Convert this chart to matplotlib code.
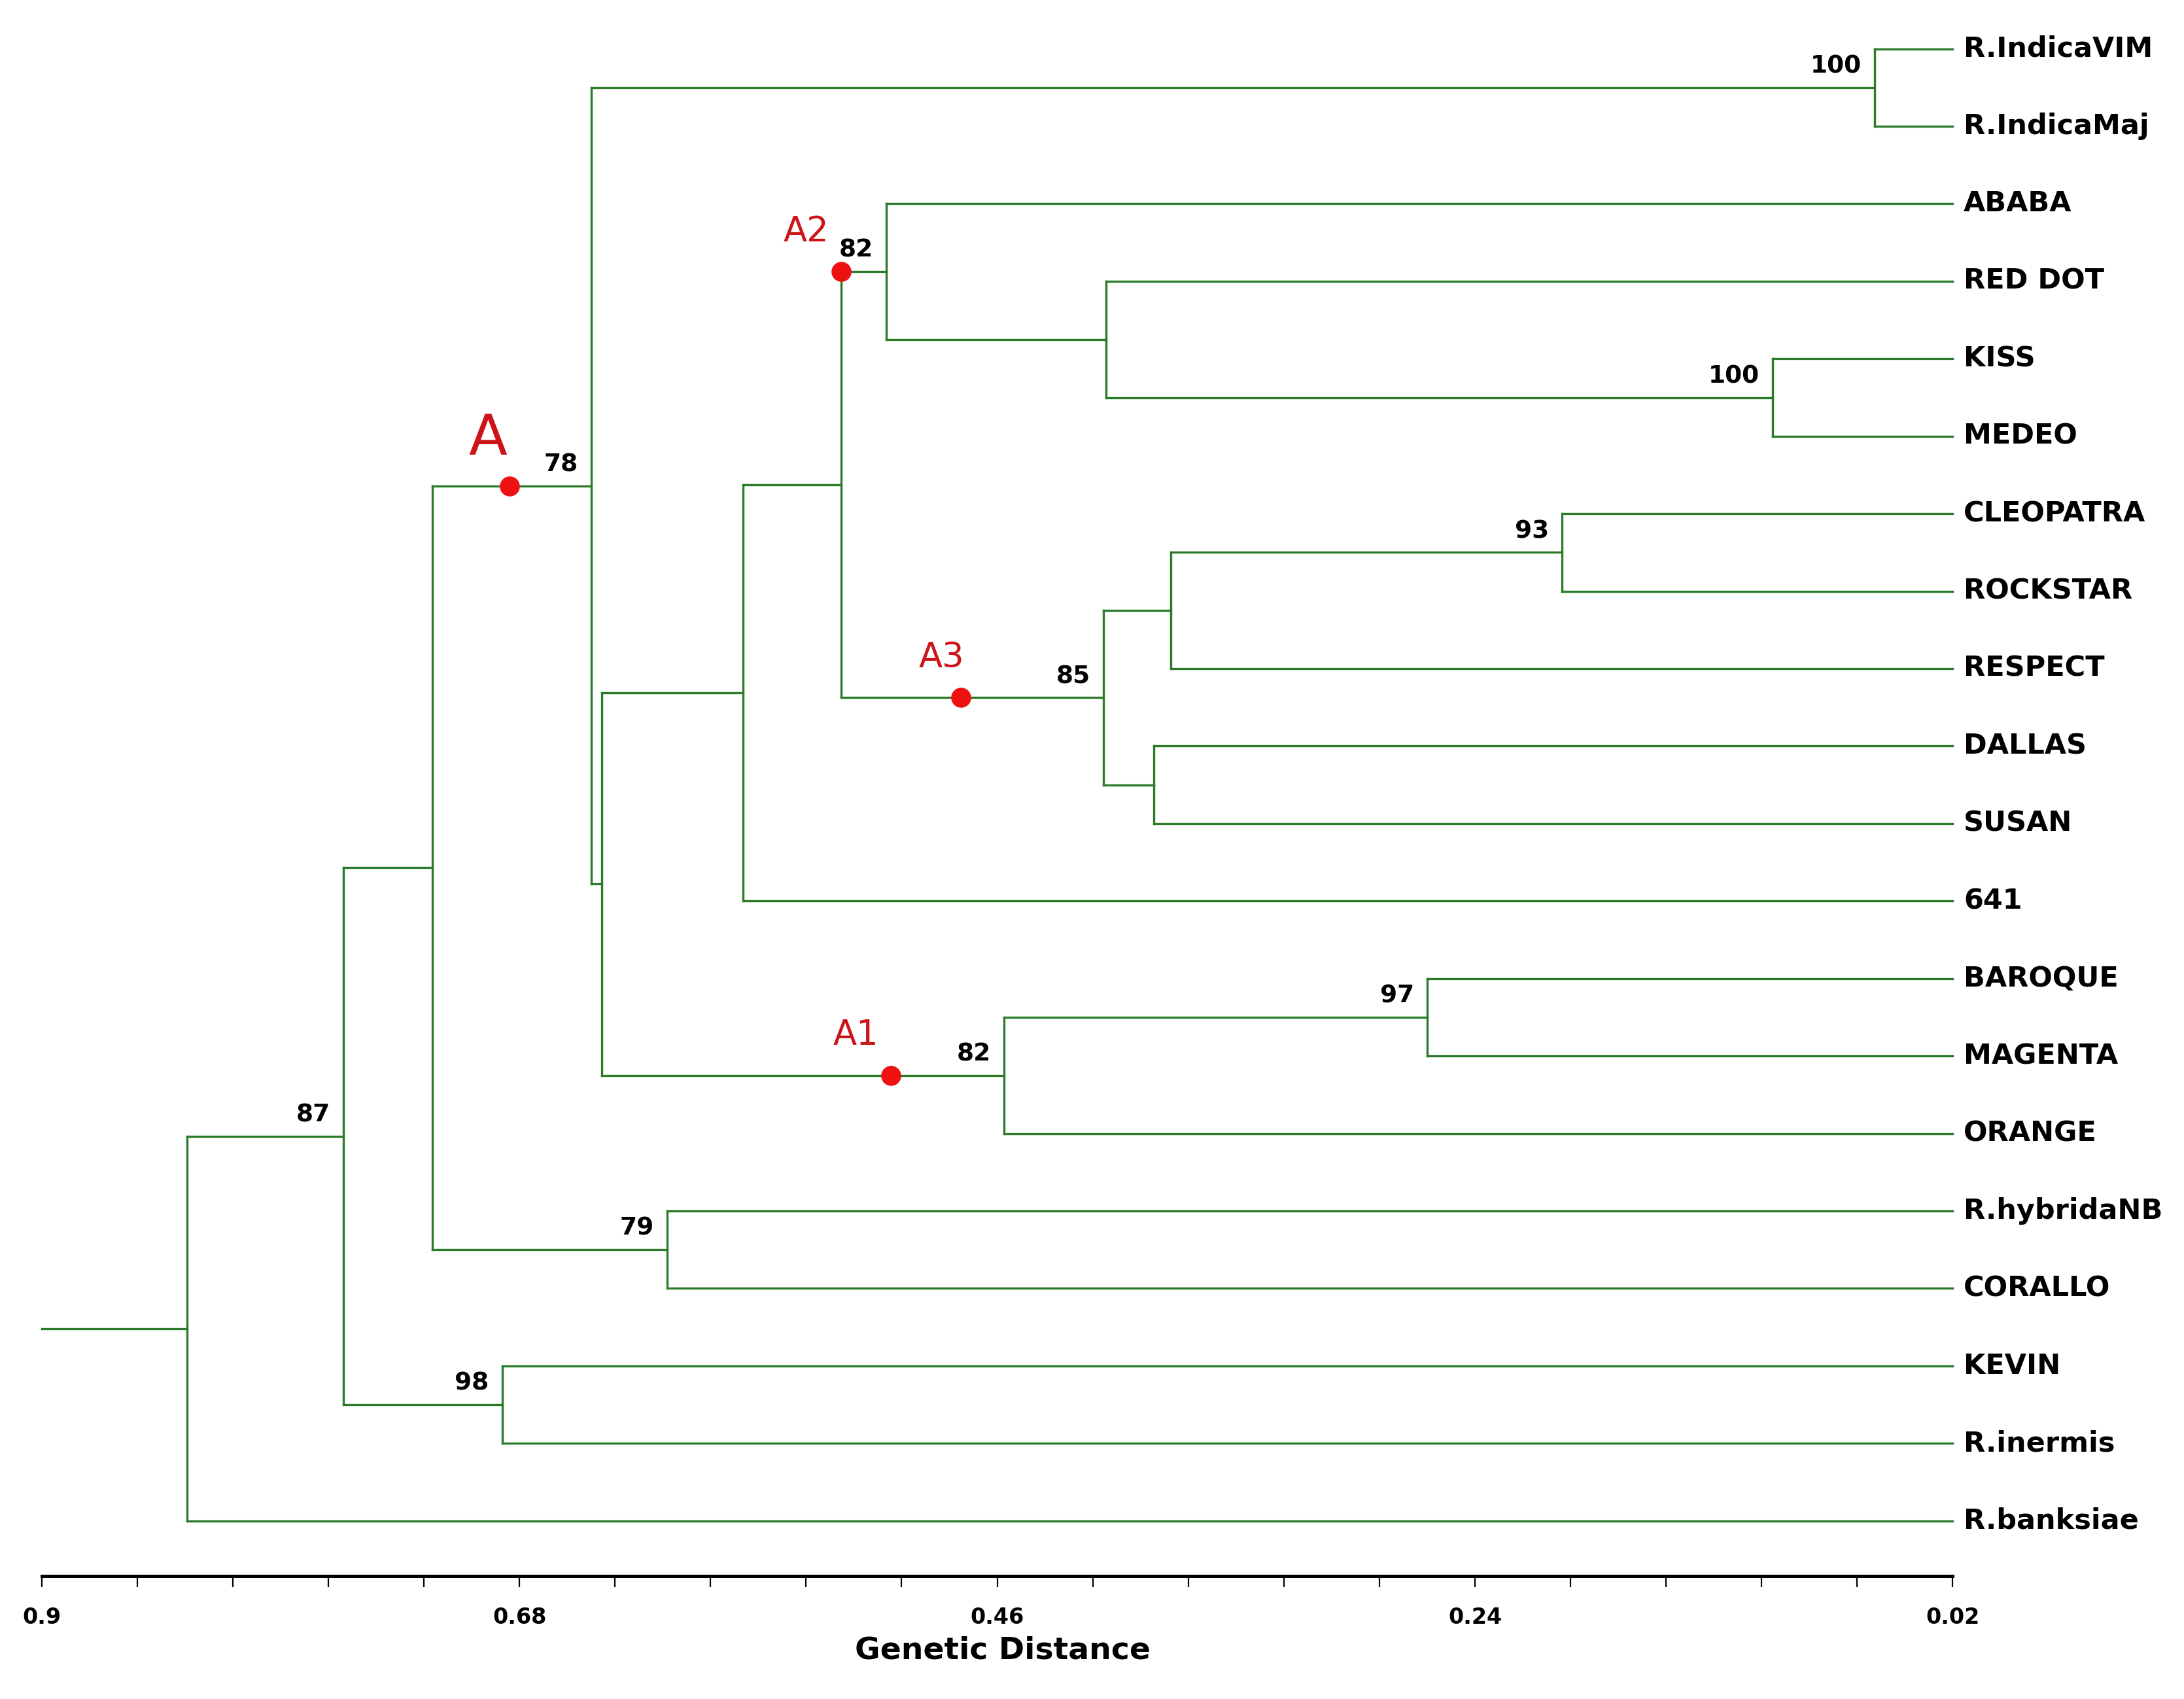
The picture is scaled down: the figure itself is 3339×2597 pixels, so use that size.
import numpy as np
import matplotlib
matplotlib.use("Agg")
import matplotlib.pyplot as plt

matplotlib.rcParams['font.family'] = 'DejaVu Sans'

# leaves, top to bottom
leaves = ["R.IndicaVIM", "R.IndicaMaj", "ABABA", "RED DOT", "KISS", "MEDEO",
          "CLEOPATRA", "ROCKSTAR", "RESPECT", "DALLAS", "SUSAN", "641",
          "BAROQUE", "MAGENTA", "ORANGE", "R.hybridaNB", "CORALLO", "KEVIN",
          "R.inermis", "R.banksiae"]

# internal nodes (numbered from len(leaves) upward)
node_left = [0, 4, 3, 2, 6, 24, 9, 25, 23, 28, 12, 30, 29, 20, 15, 33, 17, 35, 37]
node_right = [1, 5, 21, 22, 7, 8, 10, 26, 27, 11, 13, 14, 31, 32, 16, 34, 18, 36, 19]
node_height = [0.056, 0.103, 0.410, 0.511, 0.200, 0.380, 0.388, 0.411, 0.532,
               0.577, 0.262, 0.457, 0.642, 0.647, 0.612, 0.720, 0.688, 0.761, 0.833]
node_support = [100, 100, None, 82, 93, None, None, 85, None,
                None, 97, 82, None, 78, 79, None, 98, 87, None]

root_dist = 0.9
leaf_dist = 0.02

# clusters marked with red dots: name, node, distance of the dot
cluster_names = ["A", "A2", "A3", "A1"]
cluster_nodes = [33, 23, 27, 31]
cluster_dist = [0.6845, 0.532, 0.4767, 0.509]

tick_values = np.linspace(0.9, 0.02, 21)
tick_labels = ["0.9", "0.68", "0.46", "0.24", "0.02"]

green = "#2a7a2a"
lw = 1.2

n = len(leaves)
ys = list(range(n)) + [0.0] * len(node_left)
xs = [leaf_dist] * n + list(node_height)
for i in range(len(node_left)):
    k = n + i
    ys[k] = (ys[node_left[i]] + ys[node_right[i]]) / 2

fig = plt.figure(figsize=(3339 / 200, 2597 / 200), dpi=200)
ax = fig.add_axes([0, 0, 1, 1])

for i in range(len(node_left)):
    k = n + i
    a, b = node_left[i], node_right[i]
    ax.plot([xs[k], xs[k]], [ys[a], ys[b]], color=green, lw=lw)
    for c in (a, b):
        ax.plot([xs[k], xs[c]], [ys[c], ys[c]], color=green, lw=lw)
    if node_support[i] is not None:
        ax.text(xs[k] + 0.006, ys[k] - 0.12, str(node_support[i]),
                ha="right", va="bottom", fontsize=13.5, fontweight="bold")

root = n + len(node_left) - 1
ax.plot([root_dist, xs[root]], [ys[root], ys[root]], color=green, lw=lw)

for i, name in enumerate(leaves):
    ax.text(leaf_dist - 0.005, i, name, ha="left", va="center",
            fontsize=15.5, fontweight="bold")

# cluster dots and labels
for name, nd, d in zip(cluster_names, cluster_nodes, cluster_dist):
    y = ys[nd]
    ax.plot(d, y, "o", color="#ee1111", markersize=11, markeredgewidth=0)
    if name == "A":
        ax.text(d + 0.010, y - 0.25, name, ha="center", va="bottom",
                fontsize=31, color="#cc1418")
    else:
        ax.text(d + 0.016 if name != "A3" else d + 0.009, y - 0.3, name,
                ha="center", va="bottom", fontsize=19, color="#cc1418")

ax.set_xlim(0.9192, -0.0865)
ax.set_ylim(21.3, -0.63)

for s in ["top", "right", "left"]:
    ax.spines[s].set_visible(False)
ax.spines["bottom"].set_position(("data", 19.71))
ax.spines["bottom"].set_linewidth(1.8)
ax.spines["bottom"].set_bounds(0.9, 0.02)
ax.set_yticks([])
ax.set_xticks(tick_values)
ax.set_xticklabels([tick_labels[i // 5] if i % 5 == 0 else "" for i in range(21)],
                   fontsize=12, fontweight="bold")
ax.tick_params(axis="x", direction="out", length=6, width=0.8, pad=11)
ax.set_xlabel("Genetic Distance", fontsize=17, fontweight="bold")
ax.xaxis.set_label_coords(0.459, 0.037)
ax.patch.set_visible(False)

fig.savefig("out.png", dpi=200)
